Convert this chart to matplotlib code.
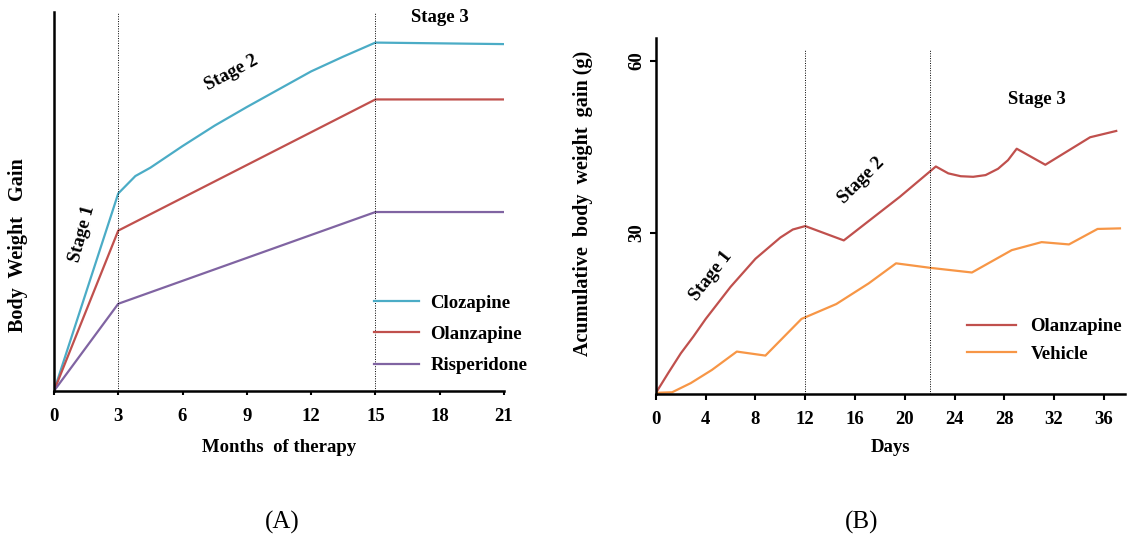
import matplotlib
matplotlib.use("Agg")
import matplotlib.pyplot as plt

plt.rcParams['font.family'] = ['Liberation Serif', 'DejaVu Serif']
plt.rcParams['font.weight'] = 'bold'

# Panel A: months of therapy vs relative body weight gain (no y scale)
months = [0, 3, 3.8, 4.5, 6, 7.5, 9, 10.5, 12, 13.5, 15, 21]
clozapine = [0, 52.1, 56.7, 58.9, 64.6, 70.0, 74.9, 79.6, 84.3, 88.2, 91.9, 91.5]
months_lin = [0, 3, 15, 21]
olanzapine_a = [0, 42.3, 76.9, 76.9]
risperidone = [0, 23.0, 47.2, 47.2]
months_ticks = [0, 3, 6, 9, 12, 15, 18, 21]

# Panel B: days vs acumulative body weight gain (g)
days_olz = [0, 1, 2, 3, 4, 6, 8, 10, 11, 12, 15.1, 19.6, 22.5, 23.5, 24.5, 25.5, 26.5,
            27.5, 28.3, 29.0, 31.3, 34.9, 37.0]
olanzapine_b = [2.1, 5.6, 9.0, 11.9, 15.0, 20.6, 25.5, 29.2, 30.6, 31.2, 28.7, 36.3, 41.6,
                40.4, 39.9, 39.8, 40.1, 41.2, 42.7, 44.7, 41.9, 46.7, 47.8]
days_veh = [0, 1.3, 2.8, 4.5, 6.5, 8.8, 11.7, 14.5, 17.1, 19.3, 22.1, 25.4, 28.6, 31.0, 33.2, 35.5, 37.3]
vehicle = [2.1, 2.2, 3.8, 6.1, 9.3, 8.6, 15.0, 17.6, 21.2, 24.7, 23.9, 23.1, 27.0, 28.4, 28.0, 30.7, 30.8]
days_ticks = [0, 4, 8, 12, 16, 20, 24, 28, 32, 36]

c_cloz = '#4bacc6'
c_olz = '#c0504d'
c_risp = '#8064a2'
c_veh = '#f79646'

fs = 13.5

fig = plt.figure(figsize=(11.29, 5.40), dpi=100)

"""Panel A"""
ax1 = fig.add_axes([0.0478, 0.276, 0.3986, 0.702])
ax1.plot(months, clozapine, color=c_cloz, lw=1.6, label='Clozapine')
ax1.plot(months_lin, olanzapine_a, color=c_olz, lw=1.6, label='Olanzapine')
ax1.plot(months_lin, risperidone, color=c_risp, lw=1.6, label='Risperidone')
for m in [3, 15]:
    ax1.axvline(m, color='black', lw=0.7, ls=(0, (1, 1.5)))
ax1.set_xlim(0, 21)
ax1.set_ylim(0, 100)
ax1.set_xticks(months_ticks)
ax1.set_yticks([])
ax1.tick_params(axis='x', direction='out', length=3, width=1.5, labelsize=fs, pad=9)
for s in ['top', 'right']:
    ax1.spines[s].set_visible(False)
for s in ['left', 'bottom']:
    ax1.spines[s].set_linewidth(1.8)
ax1.set_xlabel('Months  of therapy', fontsize=fs, fontweight='bold', labelpad=10)
ax1.set_ylabel('Body  Weight   Gain', fontsize=14.5, fontweight='bold')
ax1.yaxis.set_label_coords(-0.058, 0.385)
ax1.text(1.3, 41.5, 'Stage 1', rotation=75, fontsize=fs, fontweight='bold', ha='center', va='center')
ax1.text(8.3, 84, 'Stage 2', rotation=28, fontsize=fs, fontweight='bold', ha='center', va='center')
ax1.text(18.0, 98.5, 'Stage 3', fontsize=fs, fontweight='bold', ha='center', va='center')
ax1.legend(loc='lower right', bbox_to_anchor=(1.09, 0.0), frameon=False, fontsize=fs,
           handlelength=2.4, handletextpad=0.6, labelspacing=0.75)

"""Panel B"""
ax2 = fig.add_axes([0.581, 0.2704, 0.4154, 0.659])
ax2.plot(days_olz, olanzapine_b, color=c_olz, lw=1.6, label='Olanzapine')
ax2.plot(days_veh, vehicle, color=c_veh, lw=1.6, label='Vehicle')
for d in [12, 22]:
    ax2.axvline(d, ymax=0.97, color='black', lw=0.7, ls=(0, (1, 1.5)))
ax2.set_xlim(0, 37.7)
ax2.set_ylim(1.9, 64)
ax2.set_xticks(days_ticks)
ax2.set_yticks([30, 60])
ax2.tick_params(axis='both', direction='out', length=4, width=1.5, labelsize=fs)
ax2.tick_params(axis='x', pad=8)
for lab in ax2.get_yticklabels():
    lab.set_rotation(90)
    lab.set_va('center')
for s in ['top', 'right']:
    ax2.spines[s].set_visible(False)
for s in ['left', 'bottom']:
    ax2.spines[s].set_linewidth(1.8)
ax2.set_xlabel('Days', fontsize=fs, fontweight='bold', labelpad=8)
ax2.set_ylabel('Acumulative  body  weight  gain (g)', fontsize=14.5, fontweight='bold')
ax2.yaxis.set_label_coords(-0.134, 0.536)
ax2.text(4.4, 22.4, 'Stage 1', rotation=52, fontsize=fs, fontweight='bold', ha='center', va='center')
ax2.text(16.5, 39.2, 'Stage 2', rotation=45, fontsize=fs, fontweight='bold', ha='center', va='center')
ax2.text(30.6, 53.3, 'Stage 3', fontsize=fs, fontweight='bold', ha='center', va='center')
ax2.legend(loc='lower right', bbox_to_anchor=(1.03, 0.04), frameon=False, fontsize=fs,
           handlelength=2.6, handletextpad=0.8, labelspacing=0.55)

fig.text(282 / 1129, 1 - 522 / 540, '(A)', fontsize=18, fontweight='normal', ha='center', va='center')
fig.text(862 / 1129, 1 - 522 / 540, '(B)', fontsize=18, fontweight='normal', ha='center', va='center')

fig.savefig('out.png', dpi=100)
